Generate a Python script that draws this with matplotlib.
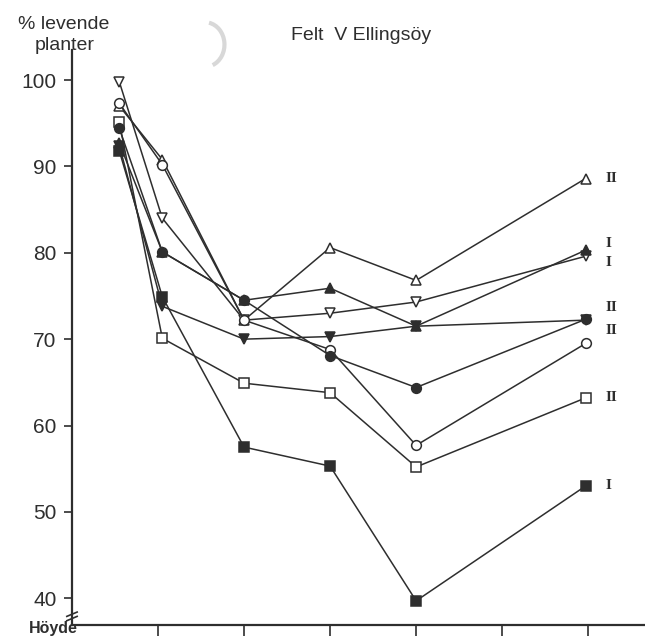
import matplotlib.pyplot as plt
from matplotlib.patches import Arc

plt.rcParams['font.family'] = ['Liberation Sans', 'DejaVu Sans']

# positions along the height axis (Höyde)
x = [0.55, 1.05, 2.0, 3.0, 4.0, 5.97]

# % living plants per provenance / treatment
open_tri_up = [97.0, 90.8, 72.2, 80.6, 76.8, 88.6]
open_tri_down = [99.8, 84.0, 72.2, 73.0, 74.3, 79.6]
filled_tri_up = [92.7, 80.1, 74.5, 75.9, 71.5, 80.3]
filled_tri_down = [92.4, 73.8, 70.0, 70.3, 71.5, 72.2]
filled_circle = [94.4, 80.1, 74.5, 68.1, 64.4, 72.3]
open_circle = [97.3, 90.2, 72.2, 68.8, 57.7, 69.5]
open_square = [95.1, 70.1, 64.9, 63.8, 55.2, 63.2]
filled_square = [91.8, 74.9, 57.5, 55.3, 39.7, 53.0]

end_labels = [('II', 88.6), ('I', 81.1), ('I', 78.9), ('II', 73.7),
              ('II', 71.0), ('II', 63.2), ('I', 53.0)]

ink = '#2e2e2e'
series = [
    (open_tri_up, '^', 'white'),
    (open_tri_down, 'v', 'white'),
    (open_circle, 'o', 'white'),
    (open_square, 's', 'white'),
    (filled_circle, 'o', ink),
    (filled_tri_up, '^', ink),
    (filled_tri_down, 'v', ink),
    (filled_square, 's', ink),
]

fig = plt.figure(figsize=(6.45, 6.37), dpi=100)
ax = fig.add_axes([0.1116, 0.0188, 0.8884, 0.903])

for vals, m, fc in series:
    ax.plot(x, vals, color=ink, lw=1.1, marker=m, ms=7,
            markerfacecolor=fc, markeredgecolor=ink, markeredgewidth=1.1,
            clip_on=False)

for txt, yv in end_labels:
    ax.text(6.2, yv, txt, family='Liberation Serif', fontsize=11,
            fontweight='bold', color=ink, va='center', ha='left')

ax.set_xlim(0, 6.66)
ax.set_ylim(36.9, 103.5)
ax.set_xticks([1, 2, 3, 4, 5, 6])
ax.set_xticklabels([])
ax.set_yticks([40, 50, 60, 70, 80, 90, 100])
ax.tick_params(axis='y', direction='out', length=6, width=1.2, pad=5,
               labelsize=15, colors=ink)
ax.tick_params(axis='x', direction='out', length=8, width=1.2, colors=ink)
for side in ['top', 'right']:
    ax.spines[side].set_visible(False)
for side in ['left', 'bottom']:
    ax.spines[side].set_linewidth(1.6)
    ax.spines[side].set_color(ink)

# axis break on the value axis
ax.plot([-0.06, 0.06], [37.9, 38.4], color=ink, lw=1.2, clip_on=False)
ax.plot([-0.06, 0.06], [37.4, 37.9], color=ink, lw=1.2, clip_on=False)

fig.text(0.098, 0.962, '% levende', fontsize=14, ha='center', va='center', color=ink)
fig.text(0.1, 0.928, 'planter', fontsize=14, ha='center', va='center', color=ink)
fig.text(0.56, 0.945, 'Felt  V Ellingsöy', fontsize=14, ha='center', va='center', color=ink)
fig.text(0.044, 0.002, 'Höyde', fontsize=11.5, fontweight='bold',
         ha='left', va='bottom', color=ink)

# faint arc near the top
fig.patches.append(Arc((0.318, 0.93), 0.06, 0.07, theta1=-70, theta2=80,
                       transform=fig.transFigure, color='#d8d8d8', lw=3))

fig.savefig('out.png', dpi=100)
